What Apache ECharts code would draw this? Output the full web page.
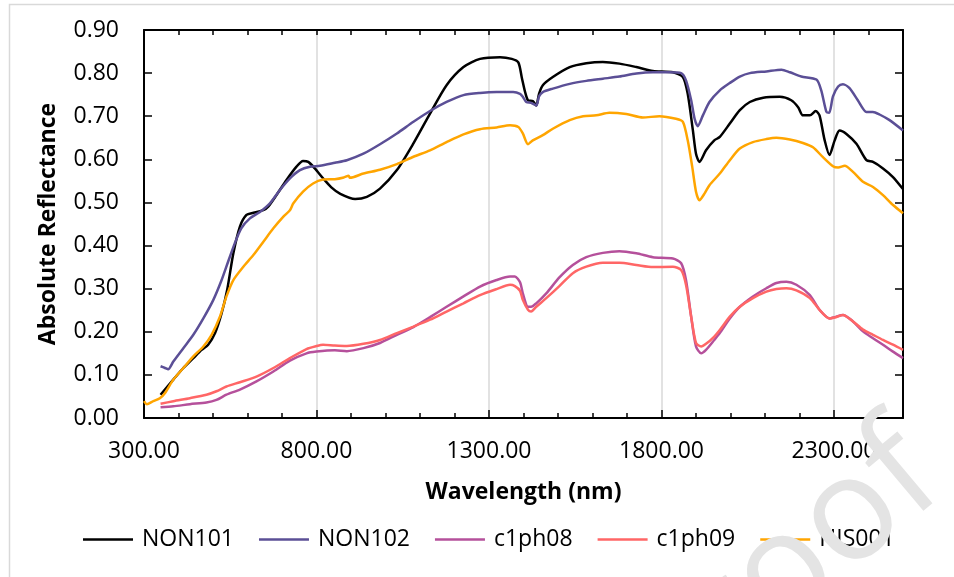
<!DOCTYPE html>
<html>
<head>
<meta charset="utf-8">
<title>Absolute reflectance spectra</title>
<script src="https://cdn.jsdelivr.net/npm/echarts@6/dist/echarts.min.js"></script>
<style>
  html, body { margin: 0; padding: 0; background: #fff; }
  #chart { width: 954px; height: 577px; }
</style>
</head>
<body>
<div id="chart"></div>
<script>
// wavelengths (nm) and reflectance values, one pair of arrays per sample
const non101Wl = [348, 385, 414, 443, 467, 486, 506, 525, 541, 559, 578, 597, 617, 646, 660, 684, 713, 742, 761, 776, 795, 819, 843, 869, 912, 946, 984, 1033, 1081, 1129, 1177, 1226, 1274, 1332, 1366, 1385, 1395, 1405, 1413, 1427, 1437, 1445, 1456, 1485, 1534, 1582, 1630, 1678, 1727, 1775, 1833, 1862, 1876, 1891, 1900, 1910, 1929, 1953, 1969, 1998, 2027, 2056, 2095, 2143, 2176, 2196, 2210, 2230, 2247, 2258, 2273, 2287, 2302, 2316, 2336, 2365, 2394, 2413, 2442, 2471, 2500];
const non101Refl = [0.054, 0.089, 0.116, 0.139, 0.158, 0.170, 0.197, 0.243, 0.297, 0.382, 0.444, 0.471, 0.476, 0.482, 0.490, 0.517, 0.552, 0.583, 0.596, 0.594, 0.579, 0.556, 0.535, 0.520, 0.508, 0.513, 0.532, 0.575, 0.637, 0.706, 0.772, 0.814, 0.833, 0.837, 0.833, 0.825, 0.790, 0.755, 0.737, 0.735, 0.725, 0.752, 0.772, 0.791, 0.814, 0.823, 0.826, 0.822, 0.814, 0.805, 0.802, 0.791, 0.752, 0.667, 0.613, 0.594, 0.621, 0.644, 0.652, 0.683, 0.714, 0.733, 0.743, 0.745, 0.737, 0.721, 0.702, 0.702, 0.712, 0.702, 0.644, 0.610, 0.644, 0.667, 0.659, 0.636, 0.598, 0.594, 0.579, 0.559, 0.531];

const non102Wl = [348, 361, 370, 385, 414, 443, 472, 501, 525, 544, 563, 582, 607, 636, 665, 694, 723, 752, 781, 810, 853, 888, 936, 984, 1033, 1081, 1129, 1177, 1226, 1274, 1322, 1370, 1390, 1398, 1408, 1422, 1437, 1445, 1456, 1485, 1534, 1582, 1630, 1678, 1727, 1775, 1823, 1857, 1871, 1886, 1896, 1905, 1920, 1939, 1969, 1998, 2027, 2056, 2104, 2148, 2172, 2205, 2249, 2263, 2278, 2286, 2297, 2312, 2326, 2345, 2369, 2394, 2413, 2432, 2461, 2500];
const non102Refl = [0.120, 0.116, 0.113, 0.131, 0.162, 0.193, 0.231, 0.274, 0.320, 0.363, 0.405, 0.440, 0.463, 0.478, 0.498, 0.529, 0.556, 0.575, 0.583, 0.585, 0.592, 0.598, 0.613, 0.635, 0.660, 0.687, 0.712, 0.733, 0.749, 0.754, 0.756, 0.756, 0.752, 0.745, 0.733, 0.731, 0.725, 0.746, 0.756, 0.764, 0.775, 0.782, 0.787, 0.792, 0.799, 0.802, 0.802, 0.800, 0.783, 0.737, 0.694, 0.677, 0.702, 0.733, 0.760, 0.777, 0.792, 0.800, 0.804, 0.808, 0.802, 0.792, 0.785, 0.760, 0.710, 0.708, 0.746, 0.769, 0.774, 0.765, 0.737, 0.710, 0.710, 0.704, 0.691, 0.667];

const c1ph08Wl = [348, 385, 433, 481, 510, 539, 578, 626, 675, 723, 771, 800, 853, 888, 936, 984, 1033, 1081, 1129, 1177, 1226, 1274, 1322, 1361, 1375, 1390, 1398, 1413, 1422, 1437, 1466, 1504, 1543, 1582, 1630, 1678, 1727, 1775, 1833, 1857, 1871, 1886, 1900, 1915, 1929, 1953, 1969, 1998, 2027, 2065, 2104, 2133, 2162, 2191, 2230, 2258, 2287, 2302, 2326, 2355, 2384, 2413, 2442, 2471, 2500];
const c1ph08Refl = [0.025, 0.027, 0.032, 0.036, 0.042, 0.054, 0.066, 0.085, 0.108, 0.133, 0.150, 0.154, 0.157, 0.155, 0.162, 0.174, 0.193, 0.211, 0.234, 0.258, 0.282, 0.305, 0.320, 0.328, 0.328, 0.315, 0.289, 0.258, 0.258, 0.266, 0.289, 0.326, 0.355, 0.373, 0.383, 0.387, 0.382, 0.373, 0.370, 0.359, 0.320, 0.235, 0.166, 0.150, 0.158, 0.181, 0.197, 0.231, 0.258, 0.282, 0.301, 0.313, 0.316, 0.309, 0.285, 0.251, 0.231, 0.234, 0.239, 0.224, 0.201, 0.185, 0.170, 0.154, 0.139];

const c1ph09Wl = [348, 385, 433, 481, 510, 539, 578, 626, 675, 723, 771, 800, 819, 853, 888, 936, 984, 1033, 1081, 1129, 1177, 1226, 1274, 1322, 1361, 1375, 1390, 1398, 1413, 1422, 1437, 1466, 1504, 1543, 1582, 1630, 1678, 1727, 1775, 1833, 1857, 1871, 1886, 1900, 1915, 1929, 1953, 1969, 1998, 2027, 2065, 2104, 2133, 2162, 2191, 2230, 2258, 2287, 2302, 2326, 2355, 2384, 2413, 2442, 2471, 2500];
const c1ph09Refl = [0.033, 0.039, 0.046, 0.054, 0.062, 0.073, 0.083, 0.096, 0.116, 0.139, 0.160, 0.167, 0.170, 0.168, 0.167, 0.172, 0.181, 0.197, 0.212, 0.228, 0.247, 0.266, 0.285, 0.299, 0.309, 0.306, 0.295, 0.274, 0.251, 0.247, 0.258, 0.278, 0.306, 0.336, 0.351, 0.360, 0.360, 0.355, 0.350, 0.351, 0.343, 0.309, 0.235, 0.174, 0.166, 0.172, 0.189, 0.204, 0.235, 0.258, 0.278, 0.293, 0.299, 0.301, 0.296, 0.278, 0.251, 0.231, 0.233, 0.239, 0.224, 0.205, 0.193, 0.181, 0.170, 0.158];

const his001Wl = [300, 308, 327, 346, 361, 385, 414, 443, 472, 496, 520, 539, 559, 588, 617, 646, 675, 704, 723, 733, 761, 790, 819, 853, 879, 893, 897, 936, 984, 1033, 1081, 1129, 1177, 1226, 1274, 1322, 1361, 1385, 1398, 1413, 1427, 1456, 1485, 1534, 1573, 1611, 1649, 1698, 1746, 1794, 1842, 1862, 1876, 1889, 1900, 1910, 1925, 1939, 1969, 1998, 2027, 2065, 2104, 2133, 2172, 2210, 2239, 2268, 2297, 2312, 2331, 2355, 2384, 2413, 2442, 2471, 2500];
const his001Refl = [0.039, 0.032, 0.039, 0.046, 0.058, 0.089, 0.116, 0.143, 0.166, 0.193, 0.235, 0.282, 0.320, 0.351, 0.378, 0.409, 0.440, 0.467, 0.482, 0.498, 0.525, 0.544, 0.553, 0.554, 0.558, 0.562, 0.557, 0.567, 0.576, 0.589, 0.606, 0.621, 0.640, 0.658, 0.670, 0.674, 0.679, 0.675, 0.660, 0.635, 0.644, 0.656, 0.671, 0.691, 0.700, 0.702, 0.708, 0.705, 0.697, 0.700, 0.694, 0.687, 0.644, 0.583, 0.525, 0.505, 0.521, 0.540, 0.567, 0.598, 0.625, 0.640, 0.647, 0.650, 0.646, 0.638, 0.628, 0.605, 0.584, 0.581, 0.585, 0.571, 0.548, 0.536, 0.517, 0.494, 0.475];

const seriesNames = ['NON101', 'NON102', 'c1ph08', 'c1ph09', 'HIS001'];
const seriesColors = ['#000000', '#5b4f96', '#b5509b', '#ff6666', '#ffa500'];

const FONT = '"Open Sans", "Noto Sans", sans-serif';

const zip = (xs, ys) => xs.map((x, i) => [x, ys[i]]);
const seriesData = [
  zip(non101Wl, non101Refl),
  zip(non102Wl, non102Refl),
  zip(c1ph08Wl, c1ph08Refl),
  zip(c1ph09Wl, c1ph09Refl),
  zip(his001Wl, his001Refl)
];

const chart = echarts.init(document.getElementById('chart'), null, { renderer: 'canvas' });

const axisBlack = { show: true, onZero: false, lineStyle: { color: '#000', width: 2 } };

const option = {
  backgroundColor: '#fff',
  animation: false,
  textStyle: { fontFamily: FONT },
  grid: { left: 144, right: 51, top: 30, bottom: 159 },
  legend: {
    data: seriesNames,
    left: 78,
    top: 523,
    icon: 'rect',
    itemWidth: 50,
    itemHeight: 2.5,
    itemGap: 25,
    textStyle: { fontFamily: FONT, fontSize: 23, color: '#000', padding: [0, 0, 0, 4] }
  },
  xAxis: [
    {
      // minor ticks every 100 nm
      type: 'value', position: 'bottom', min: 300, max: 2500, interval: 100,
      axisLine: axisBlack,
      axisTick: { inside: true, length: 5, lineStyle: { color: '#000', width: 1.5 } },
      axisLabel: { show: false },
      splitLine: { show: false }
    },
    {
      // labels, gridlines and longer ticks every 500 nm
      type: 'value', position: 'bottom', min: 300, max: 2500, interval: 500,
      axisLine: { show: false },
      axisTick: { inside: true, length: 8, lineStyle: { color: '#000', width: 1.5 } },
      axisLabel: {
        fontFamily: FONT, fontSize: 23, color: '#000', margin: 22,
        formatter: v => ((v - 300) % 500 === 0 ? v.toFixed(2) : '')
      },
      splitLine: { show: true, lineStyle: { color: '#d9d9d9', width: 1.5 } },
      name: 'Wavelength (nm)',
      nameLocation: 'middle',
      nameGap: 63,
      nameTextStyle: { fontFamily: FONT, fontSize: 23, fontWeight: 'bold', color: '#000' }
    },
    {
      type: 'value', position: 'top', min: 300, max: 2500, interval: 100,
      axisLine: axisBlack,
      axisTick: { inside: true, length: 5, lineStyle: { color: '#000', width: 1.5 } },
      axisLabel: { show: false },
      splitLine: { show: false }
    }
  ],
  yAxis: [
    {
      type: 'value', position: 'left', min: 0, max: 0.9, interval: 0.1,
      axisLine: axisBlack,
      axisTick: { inside: true, length: 8, lineStyle: { color: '#000', width: 1.5 } },
      axisLabel: {
        fontFamily: FONT, fontSize: 23, color: '#000', margin: 25,
        formatter: v => v.toFixed(2)
      },
      splitLine: { show: false },
      name: 'Absolute Reflectance',
      nameLocation: 'middle',
      nameGap: 84,
      nameTextStyle: { fontFamily: FONT, fontSize: 23, fontWeight: 'bold', color: '#000' }
    },
    {
      type: 'value', position: 'right', min: 0, max: 0.9, interval: 0.1,
      axisLine: axisBlack,
      axisTick: { inside: true, length: 8, lineStyle: { color: '#000', width: 1.5 } },
      axisLabel: { show: false },
      splitLine: { show: false }
    }
  ],
  series: seriesNames.map((name, i) => ({
    name: name,
    type: 'line',
    xAxisIndex: 0,
    yAxisIndex: 0,
    data: seriesData[i],
    showSymbol: false,
    smooth: 0.25,
    lineStyle: { color: seriesColors[i], width: 2.5 },
    itemStyle: { color: seriesColors[i] }
  })),
  graphic: [
    {
      // chart area border
      type: 'rect', left: 7, top: 2, z: -10,
      shape: { width: 960, height: 600 },
      style: { fill: 'none', stroke: '#d9d9d9', lineWidth: 1.5 }
    },
    {
      // faint watermark in the corner
      type: 'text', x: 922, y: 458, rotation: 40 * Math.PI / 180, z: 100,
      style: {
        text: 'Journal Pre-proof',
        fontFamily: FONT, fontSize: 145,
        fill: '#e4e4e4',
        align: 'right', verticalAlign: 'middle'
      }
    }
  ]
};

chart.setOption(option);
</script>
</body>
</html>
